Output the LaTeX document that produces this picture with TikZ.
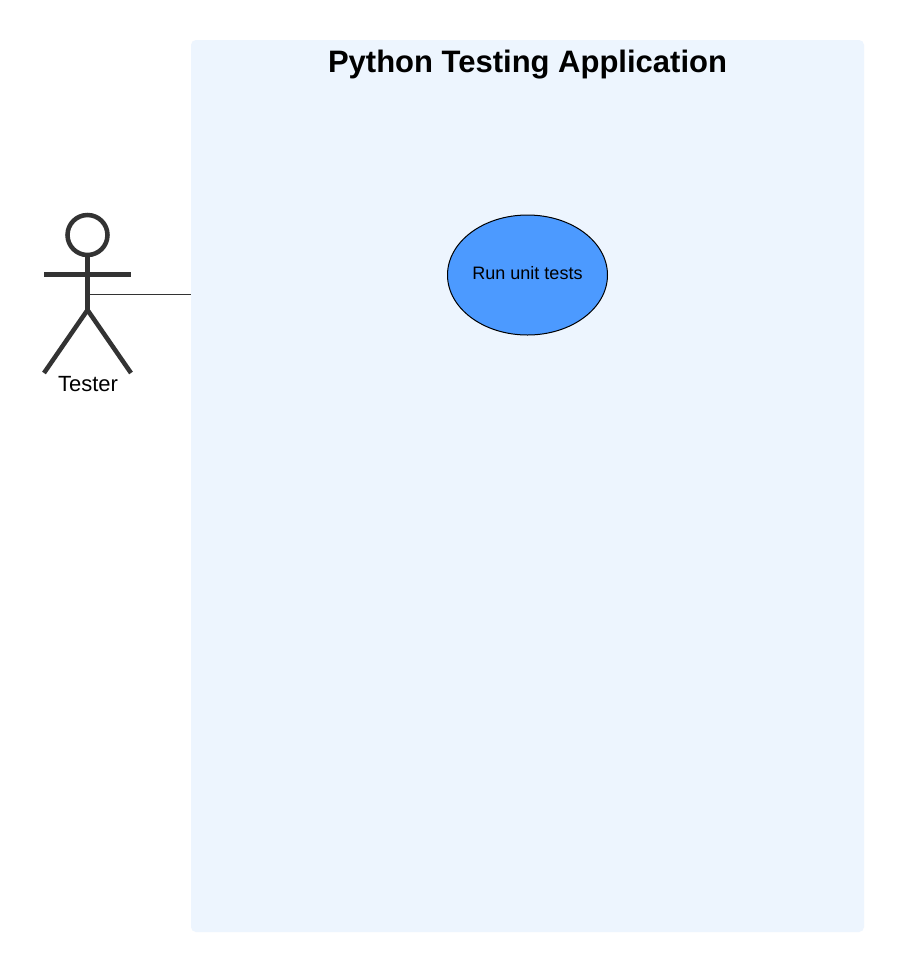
\documentclass[tikz,border=0pt]{standalone}
\usepackage{fontspec}
\setmainfont{Liberation Sans}
\usetikzlibrary{shapes.geometric}
\definecolor{boxfill}{HTML}{EDF5FE}
\definecolor{ucfill}{HTML}{4C9AFF}
\definecolor{actorc}{HTML}{333333}
\tikzset{
  sysbox/.style={fill=boxfill,draw=none,rounded corners=3.75pt,minimum width=504.75pt,minimum height=669pt,inner sep=0pt},
  titletext/.style={font=\fontsize{23.25pt}{26pt}\selectfont\bfseries,text=black,inner sep=0pt},
  usecase/.style={ellipse,draw=black,fill=ucfill,line width=0.75pt,minimum width=120pt,minimum height=90pt,inner sep=0pt},
  uclabel/.style={font=\fontsize{13.5pt}{16pt}\selectfont,text=black,inner sep=0pt},
  actorline/.style={draw=actorc,line width=3.4pt},
  actorhead/.style={circle,draw=actorc,line width=3.4pt,minimum size=30pt,inner sep=0pt},
  actorlabel/.style={font=\fontsize{16.5pt}{19pt}\selectfont,text=black,inner sep=0pt},
  assoc/.style={draw=actorc,line width=0.6pt}
}
\begin{document}
\begin{tikzpicture}[x=0.75pt,y=-0.75pt]
\useasboundingbox (0,0) rectangle (915,972);
\fill[white] (0,0) rectangle (915,972);
\node[sysbox] (system) at (527.5,486) {};
\node[titletext] (title) at (527.5,65) {Python Testing Application};
\node[usecase] (runtests) at (527.5,275) {};
\node[uclabel] (runlabel) at (527.5,273.5) {Run unit tests};
\node[actorhead] (head) at (87.5,235) {};
\coordinate (armL) at (44,274.5);
\coordinate (armR) at (130.5,274.5);
\coordinate (hip) at (87.5,310);
\coordinate (legL) at (44,373);
\coordinate (legR) at (131,373);
\coordinate (attach) at (87.5,294.5);
\draw[assoc] (attach) -- (attach -| system.west);
\draw[actorline] (head.south) -- (hip);
\draw[actorline] (armL) -- (armR);
\draw[actorline] (legL) -- (hip) -- (legR);
\node[actorlabel] (tester) at (88,384.5) {Tester};
\end{tikzpicture}
\end{document}
